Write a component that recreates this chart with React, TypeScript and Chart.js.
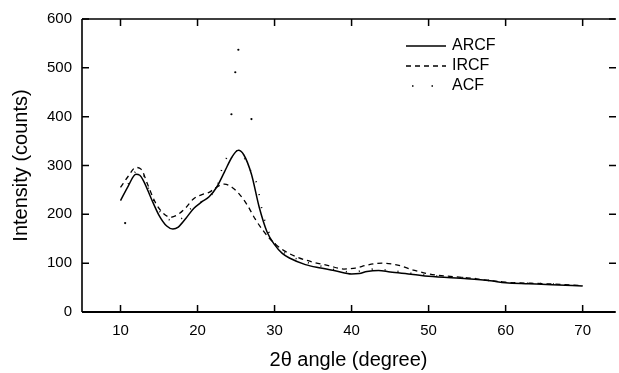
import React, { useEffect, useRef } from "react";
import { Chart, registerables } from "chart.js";

Chart.register(...registerables);

const xTickValues = [10, 20, 30, 40, 50, 60, 70];
const yTickValues = [0, 100, 200, 300, 400, 500, 600];

const arcfAngles = [10, 11, 12, 12.5, 13, 14, 15, 16, 16.8, 17.5, 18.5, 19.5, 20.5, 21.5, 22.5, 23.5, 24.5, 25.3, 26, 27, 28, 29, 30, 31, 32, 34, 36, 38, 40, 41, 42, 43.5, 45, 48, 50, 55, 58, 60, 63, 66, 70];
const arcfCounts = [228, 258, 282, 280, 268, 232, 198, 176, 170, 174, 192, 212, 225, 236, 256, 287, 318, 331, 322, 282, 215, 165, 138, 120, 110, 97, 90, 84, 78, 79, 83, 85, 82, 77, 73, 68, 64, 60, 58, 56, 53];

const ircfAngles = [10, 11, 12, 12.7, 13.5, 14.5, 15.5, 16.5, 17.5, 18.5, 19.5, 20.5, 21.5, 22.5, 23.5, 24.5, 25.5, 26.5, 27.5, 28.5, 29.5, 31, 33, 35, 37, 39, 40.5, 42, 44, 46, 48, 50, 55, 60, 65, 70];
const ircfCounts = [255, 278, 296, 292, 262, 225, 203, 194, 200, 214, 232, 240, 245, 256, 262, 255, 240, 218, 190, 167, 148, 128, 112, 102, 95, 88, 90, 96, 100, 96, 86, 78, 70, 61, 58, 54];

const acfAngles = [11, 12, 12.6, 13.5, 14.5, 16, 17.5, 19, 21, 22.5, 23.3, 24, 25.5, 26.5, 27.7, 28.5, 29.5, 31, 33, 36, 40, 43, 45, 50, 55, 60, 65, 67];
const acfCounts = [262, 288, 290, 258, 222, 190, 188, 210, 232, 255, 300, 320, 330, 300, 262, 200, 155, 125, 108, 94, 82, 88, 85, 75, 70, 61, 58, 57];

const acfSpikeAngles = [10.6, 24.4, 24.9, 25.3, 27.0];
const acfSpikeCounts = [182, 405, 491, 537, 395];

const seriesLabels = ["ARCF", "IRCF", "ACF"];

const toPoints = (xs: number[], ys: number[]) => xs.map((x, i) => ({ x, y: ys[i] }));

const FONT = "'Liberation Sans', Arial, sans-serif";

const framePlugin = {
  id: "frame",
  afterDraw(chart: any) {
    const { ctx, chartArea } = chart;
    const { left, right, top, bottom } = chartArea;
    const xs = chart.scales.x;
    const ys = chart.scales.y;
    ctx.save();
    ctx.strokeStyle = "#000";
    ctx.lineCap = "butt";
    ctx.lineWidth = 1.6;
    ctx.beginPath();
    ctx.moveTo(left, top);
    ctx.lineTo(left, bottom);
    ctx.moveTo(left, top);
    ctx.lineTo(right, top);
    ctx.stroke();
    ctx.lineWidth = 2;
    ctx.beginPath();
    ctx.moveTo(left, bottom);
    ctx.lineTo(right, bottom);
    ctx.stroke();
    const tl = 7;
    ctx.lineWidth = 1.5;
    ctx.beginPath();
    xs.ticks.forEach((t: any) => {
      const px = xs.getPixelForValue(t.value);
      ctx.moveTo(px, bottom);
      ctx.lineTo(px, bottom - tl);
      ctx.moveTo(px, top);
      ctx.lineTo(px, top + tl);
    });
    ys.ticks.forEach((t: any) => {
      const py = ys.getPixelForValue(t.value);
      ctx.moveTo(left, py);
      ctx.lineTo(left + tl, py);
      ctx.moveTo(right + 1, py);
      ctx.lineTo(right + 1 - tl, py);
    });
    ctx.stroke();

    const lx0 = 406;
    const lx1 = 446;
    const tx = 452;
    const rows = [46, 66, 86];
    ctx.font = `16px ${FONT}`;
    ctx.fillStyle = "#000";
    ctx.textBaseline = "middle";
    ctx.textAlign = "left";
    chart.data.datasets.slice(0, 3).forEach((ds: any, i: number) => {
      const y = rows[i];
      ctx.save();
      ctx.strokeStyle = "#000";
      ctx.lineWidth = ds.borderWidth;
      ctx.setLineDash(i === 2 ? [1.5, 18] : ds.borderDash || []);
      ctx.beginPath();
      ctx.moveTo(i === 2 ? lx0 + 6 : lx0, y);
      ctx.lineTo(lx1, y);
      ctx.stroke();
      ctx.restore();
      ctx.fillText(ds.label, tx, y);
    });
    ctx.restore();
  },
};

export default function App() {
  const ref = useRef<HTMLCanvasElement | null>(null);
  useEffect(() => {
    if (!ref.current) return;
    const chart = new Chart(ref.current, {
      type: "line",
      data: {
        datasets: [
          {
            label: seriesLabels[0],
            data: toPoints(arcfAngles, arcfCounts),
            borderColor: "#000",
            borderWidth: 1.5,
            pointRadius: 0,
            cubicInterpolationMode: "monotone",
            fill: false,
          },
          {
            label: seriesLabels[1],
            data: toPoints(ircfAngles, ircfCounts),
            borderColor: "#000",
            borderWidth: 1.3,
            borderDash: [5, 4],
            pointRadius: 0,
            cubicInterpolationMode: "monotone",
            fill: false,
          },
          {
            label: seriesLabels[2],
            data: toPoints(acfAngles, acfCounts),
            borderColor: "#000",
            borderWidth: 1.6,
            borderDash: [1, 12],
            pointRadius: 0,
            cubicInterpolationMode: "monotone",
            fill: false,
          },
          {
            label: "ACF spikes",
            data: toPoints(acfSpikeAngles, acfSpikeCounts),
            showLine: false,
            pointRadius: 1.1,
            pointBorderWidth: 0,
            pointBackgroundColor: "#000",
            borderColor: "#000",
          },
        ],
      },
      options: {
        animation: false,
        responsive: false,
        devicePixelRatio: 1,
        layout: { padding: { top: 16, left: 0, right: 0, bottom: 0 } },
        plugins: { legend: { display: false }, tooltip: { enabled: false } },
        scales: {
          x: {
            type: "linear",
            min: 5,
            max: 74.2,
            afterBuildTicks: (s: any) => {
              s.ticks = xTickValues.map((v) => ({ value: v }));
            },
            afterFit: (s: any) => {
              s.height = 61;
            },
            grid: { display: false, drawTicks: false },
            border: { display: false },
            ticks: {
              autoSkip: false,
              maxRotation: 0,
              padding: 10,
              color: "#000",
              font: { family: FONT, size: 15 },
            },
            title: {
              display: true,
              text: "2θ angle (degree)",
              color: "#000",
              font: { family: FONT, size: 20 },
              padding: { top: 0, bottom: 1 },
            },
          },
          y: {
            type: "linear",
            min: 0,
            max: 600,
            afterBuildTicks: (s: any) => {
              s.ticks = yTickValues.map((v) => ({ value: v }));
            },
            afterFit: (s: any) => {
              s.width = 82;
            },
            grid: { display: false, drawTicks: false },
            border: { display: false },
            ticks: {
              padding: 10,
              color: "#000",
              font: { family: FONT, size: 15 },
            },
            title: {
              display: true,
              text: "Intensity (counts)",
              color: "#000",
              font: { family: FONT, size: 20 },
              padding: { top: 9, bottom: 0 },
            },
          },
        },
      },
      plugins: [framePlugin],
    } as any);
    return () => chart.destroy();
  }, []);
  return (
    <div style={{ position: "fixed", left: 0, top: 0, width: 619, height: 373, background: "#fff" }}>
      <canvas ref={ref} width={619} height={373} style={{ width: 619, height: 373, display: "block" }} />
    </div>
  );
}
